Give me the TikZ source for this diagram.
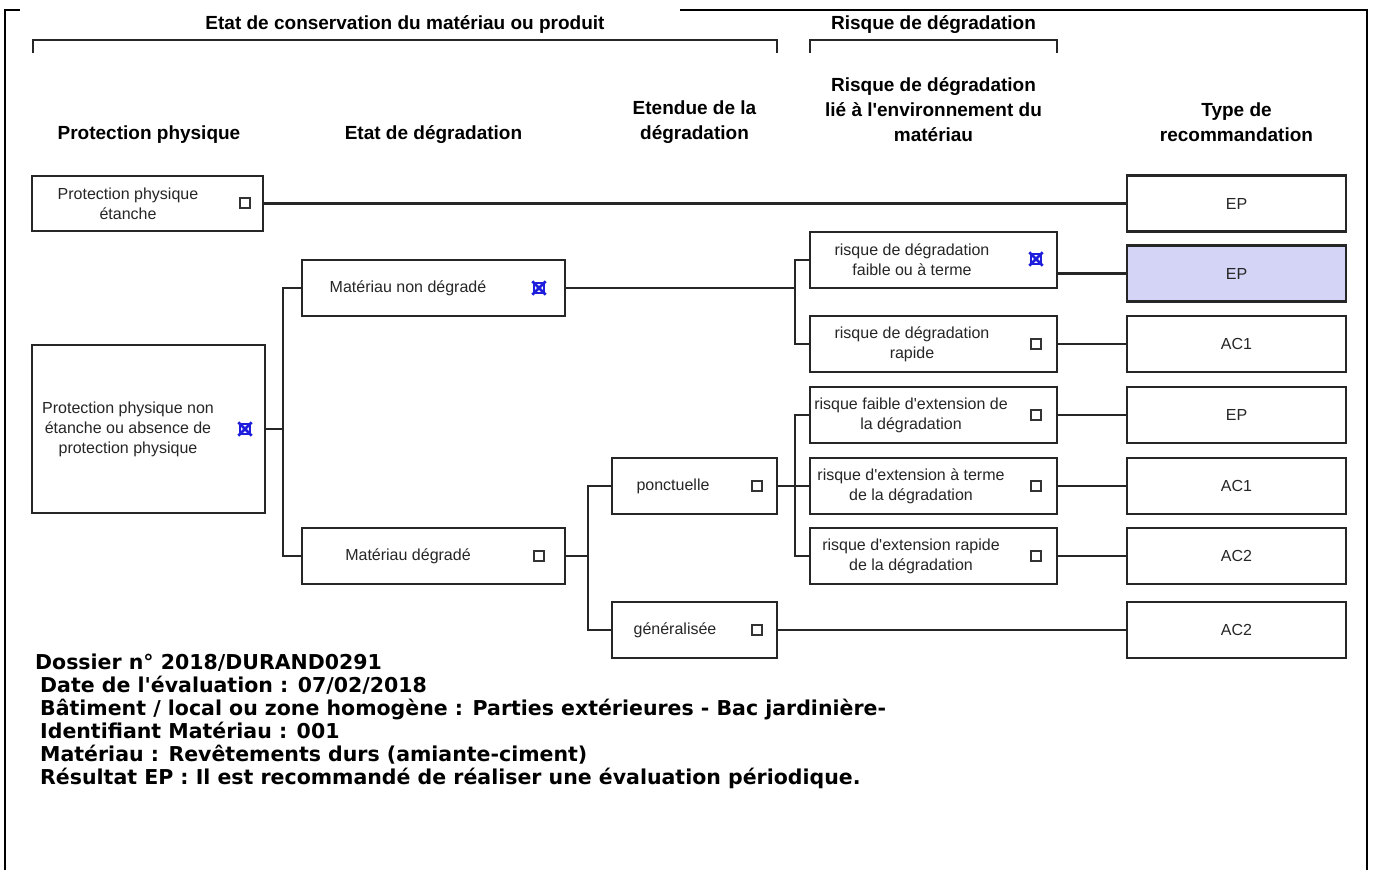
\documentclass[tikz,border=0pt]{standalone}
\usepackage{fontspec}
\newfontfamily\lsans{Liberation Sans}
\newfontfamily\vfont{DejaVu Sans}
\definecolor{selblue}{RGB}{212,212,247}
\definecolor{xblue}{RGB}{30,30,220}
\begin{document}
\begin{tikzpicture}[x=1pt,y=-1pt,
 box/.style={draw=black!85,line width=2.2pt,fill=white,inner sep=0pt},
 btxt/.style={font=\lsans\fontsize{16}{20}\selectfont,text=black!85,align=center,inner sep=0pt},
 hdr/.style={font=\lsans\bfseries\fontsize{19}{25}\selectfont,align=center,inner sep=0pt},
 chk/.style={draw=black!80,line width=1.2pt,minimum size=10pt,inner sep=0pt},
 chkx/.style={draw=xblue,line width=1.2pt,minimum size=10pt,inner sep=0pt},
 xmark/.style={draw=xblue,line width=2.6pt,shorten <=-1.5pt,shorten >=-1.5pt},
 conn/.style={draw=black!85,line width=2.2pt},
 frame/.style={draw=black,line width=2.2pt},
 info/.style={font=\vfont\bfseries\fontsize{20.5}{23}\selectfont,anchor=base west,inner sep=0pt}]
\useasboundingbox (0,0) rectangle (1374,870);
\fill[white] (0,0) rectangle (1374,870);

% frame
\draw[frame] (5,870) -- (5,10) -- (20,10);
\draw[frame] (680,10) -- (1367,10) -- (1367,870);

% group titles and brackets
\node[hdr] (g1) at (405,25) {Etat de conservation du matériau ou produit};
\node[hdr] (g2) at (933.5,25) {Risque de dégradation};
\draw[conn] (33,53) -- (33,40) -- (777,40) -- (777,53);
\draw[conn] (810,53) -- (810,40) -- (1057,40) -- (1057,53);

% column headers
\node[hdr] (h1) at (149,135) {Protection physique};
\node[hdr] (h2) at (433.5,135) {Etat de dégradation};
\node[hdr] (h3) at (694.5,122.5) {Etendue de la\\dégradation};
\node[hdr] (h4) at (933.5,110) {Risque de dégradation\\lié à l'environnement du\\matériau};
\node[hdr] (h5) at (1236.5,122.5) {Type de\\recommandation};

% column 1
\node[box,minimum width=231pt,minimum height=55pt] (pp1) at (147.5,203.5) {};
\node[btxt] (pp1t) at (128,203.5) {Protection physique\\étanche};
\node[chk] (pp1c) at (245,203) {};
\node[box,minimum width=233pt,minimum height=168pt] (pp2) at (148.5,429) {};
\node[btxt] (pp2t) at (128,429) {Protection physique non\\étanche ou absence de\\protection physique};
\node[chkx] (pp2c) at (245,429) {};
\draw[xmark] (pp2c.north west) -- (pp2c.south east);
\draw[xmark] (pp2c.north east) -- (pp2c.south west);

% column 2
\node[box,minimum width=263pt,minimum height=56pt] (nd) at (433.5,288) {};
\node[btxt] (ndt) at (408,288) {Matériau non dégradé};
\node[chkx] (ndc) at (539,288) {};
\draw[xmark] (ndc.north west) -- (ndc.south east);
\draw[xmark] (ndc.north east) -- (ndc.south west);
\node[box,minimum width=263pt,minimum height=56pt] (dg) at (433.5,556) {};
\node[btxt] (dgt) at (408,556) {Matériau dégradé};
\node[chk] (dgc) at (539,556) {};

% column 3
\node[box,minimum width=165pt,minimum height=56pt] (pon) at (694.5,486) {};
\node[btxt] (pont) at (673,486) {ponctuelle};
\node[chk] (ponc) at (757,486) {};
\node[box,minimum width=165pt,minimum height=56pt] (gen) at (694.5,630) {};
\node[btxt] (gent) at (675,630) {généralisée};
\node[chk] (genc) at (757,630) {};

% column 4
\node[box,minimum width=247pt,minimum height=56pt] (r1) at (933.5,260) {};
\node[btxt] (r1t) at (912,260) {risque de dégradation\\faible ou à terme};
\node[chkx] (r1c) at (1036,259) {};
\draw[xmark] (r1c.north west) -- (r1c.south east);
\draw[xmark] (r1c.north east) -- (r1c.south west);
\node[box,minimum width=247pt,minimum height=56pt] (r2) at (933.5,344) {};
\node[btxt] (r2t) at (912,344) {risque de dégradation\\rapide};
\node[chk] (r2c) at (1036,344) {};
\node[box,minimum width=247pt,minimum height=56pt] (r3) at (933.5,415) {};
\node[btxt] (r3t) at (911,415) {risque faible d'extension de\\la dégradation};
\node[chk] (r3c) at (1036,415) {};
\node[box,minimum width=247pt,minimum height=56pt] (r4) at (933.5,486) {};
\node[btxt] (r4t) at (911,486) {risque d'extension à terme\\de la dégradation};
\node[chk] (r4c) at (1036,486) {};
\node[box,minimum width=247pt,minimum height=56pt] (r5) at (933.5,556) {};
\node[btxt] (r5t) at (911,556) {risque d'extension rapide\\de la dégradation};
\node[chk] (r5c) at (1036,556) {};

% column 5
\node[box,minimum width=219pt,minimum height=56pt] (e1) at (1236.5,203.5) {};
\node[btxt] (e1t) at (1236.5,203.5) {EP};
\node[box,fill=selblue,minimum width=219pt,minimum height=56pt] (e2) at (1236.5,273.5) {};
\node[btxt] (e2t) at (1236.5,273.5) {EP};
\node[box,minimum width=219pt,minimum height=56pt] (e3) at (1236.5,344) {};
\node[btxt] (e3t) at (1236.5,344) {AC1};
\node[box,minimum width=219pt,minimum height=56pt] (e4) at (1236.5,415) {};
\node[btxt] (e4t) at (1236.5,415) {EP};
\node[box,minimum width=219pt,minimum height=56pt] (e5) at (1236.5,486) {};
\node[btxt] (e5t) at (1236.5,486) {AC1};
\node[box,minimum width=219pt,minimum height=56pt] (e6) at (1236.5,556) {};
\node[btxt] (e6t) at (1236.5,556) {AC2};
\node[box,minimum width=219pt,minimum height=56pt] (e7) at (1236.5,630) {};
\node[btxt] (e7t) at (1236.5,630) {AC2};

% connectors
\coordinate (j1) at (283,429);
\coordinate (j2) at (795,288);
\coordinate (j3) at (588,556);
\coordinate (j4) at (795,486);
\draw[conn] (pp1.east) -- (e1.west);
\draw[conn] (pp2.east) -- (j1);
\draw[conn] (nd.west) -| (j1);
\draw[conn] (dg.west) -| (j1);
\draw[conn] (nd.east) -- (j2);
\draw[conn] (r1.west) -| (j2);
\draw[conn] (r2.west) -| (j2);
\draw[conn] (dg.east) -- (j3);
\draw[conn] (pon.west) -| (j3);
\draw[conn] (gen.west) -| (j3);
\draw[conn] (pon.east) -- (r4.west);
\draw[conn] (r3.west) -| (j4);
\draw[conn] (r5.west) -| (j4);
\draw[conn] (gen.east) -- (e7.west);
\draw[conn] (r1.east |- e2.west) -- (e2.west);
\draw[conn] (r2.east) -- (e3.west);
\draw[conn] (r3.east) -- (e4.west);
\draw[conn] (r4.east) -- (e5.west);
\draw[conn] (r5.east) -- (e6.west);

% info text
\node[info] (l1) at (35,669) {Dossier n° 2018/DURAND0291};
\node[info] (l2) at (40,692) {Date de l'évaluation : 07/02/2018};
\node[info] (l3) at (40,715) {Bâtiment / local ou zone homogène : Parties extérieures - Bac jardinière-};
\node[info] (l4) at (40,738) {Identifiant Matériau : 001};
\node[info] (l5) at (40,761) {Matériau : Revêtements durs (amiante-ciment)};
\node[info] (l6) at (40,784) {Résultat EP : Il est recommandé de réaliser une évaluation périodique.};
\end{tikzpicture}
\end{document}
